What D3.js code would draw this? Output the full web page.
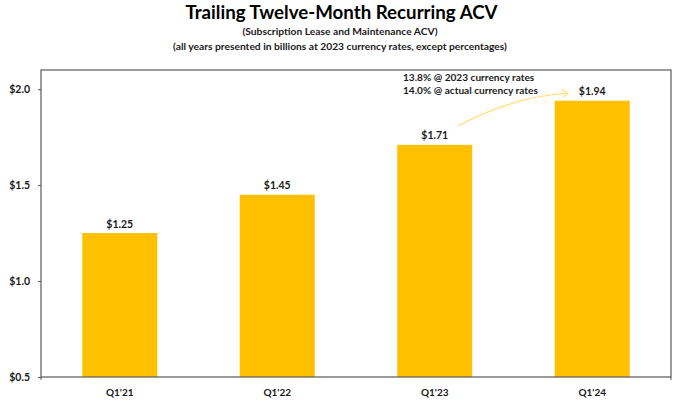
<!DOCTYPE html>
<html>
<head>
<meta charset="utf-8">
<script src="https://cdn.jsdelivr.net/npm/d3@7"></script>
<style>
  html, body { margin: 0; padding: 0; background: #fff; }
  text { font-family: Lato, "Open Sans", sans-serif; font-weight: 700; fill: #1a1a1a; }
</style>
</head>
<body>
<div id="chart-container"></div>
<script>
const quarters = ["Q1'21", "Q1'22", "Q1'23", "Q1'24"]
const acv = [1.25, 1.45, 1.71, 1.94]
const yTicks = [0.5, 1.0, 1.5, 2.0]
const titleLines = ['Trailing Twelve-Month Recurring ACV']
const subtitleLines = ['(Subscription Lease and Maintenance ACV)', '(all years presented in billions at 2023 currency rates, except percentages)']
const noteLines = ['13.8% @ 2023 currency rates', '14.0% @ actual currency rates']

const width = 684
const height = 401
const plotLeft = 41
const plotRight = 671
const plotTop = 70
const plotBottom = 377

const svg = d3.select('#chart-container')
  .append('svg')
  .attr('width', width)
  .attr('height', height)
  .style('display', 'block')

const xScale = d3.scaleBand()
  .domain(quarters)
  .range([plotLeft, plotRight])
  .paddingInner(0.524)
  .paddingOuter(0.262)

const yScale = d3.scaleLinear()
  .domain([0.5, 2.1])
  .range([plotBottom, plotTop])

// bars
svg.selectAll('rect.bar')
  .data(quarters)
  .enter()
  .append('rect')
  .attr('class', 'bar')
  .attr('x', d => xScale(d))
  .attr('y', (d, i) => yScale(acv[i]))
  .attr('width', xScale.bandwidth())
  .attr('height', (d, i) => plotBottom - yScale(acv[i]))
  .attr('fill', '#FFC000')

svg.selectAll('text.value')
  .data(quarters)
  .enter()
  .append('text')
  .attr('class', 'value')
  .attr('x', d => xScale(d) + xScale.bandwidth() / 2)
  .attr('y', (d, i) => yScale(acv[i]) - 5.5)
  .attr('text-anchor', 'middle')
  .attr('font-size', 10.5)
  .text((d, i) => '$' + acv[i].toFixed(2))

// frame
svg.append('rect')
  .attr('x', plotLeft)
  .attr('y', plotTop)
  .attr('width', plotRight - plotLeft)
  .attr('height', plotBottom - plotTop)
  .attr('fill', 'none')
  .attr('stroke', '#595959')
  .attr('stroke-width', 1.2)

// axes
const yAxis = svg.append('g')
  .attr('transform', `translate(${plotLeft},0)`)
  .call(d3.axisLeft(yScale).tickValues(yTicks).tickFormat(d => '$' + d.toFixed(1)).tickSize(3).tickPadding(8))
yAxis.select('.domain').remove()
yAxis.selectAll('line').attr('stroke', '#595959')
yAxis.selectAll('text').attr('font-size', 10.5).attr('font-family', 'Lato')

const xAxis = svg.append('g')
  .attr('transform', `translate(0,${plotBottom})`)
  .call(d3.axisBottom(xScale).tickSize(0).tickPadding(12))
xAxis.select('.domain').remove()
xAxis.selectAll('text').attr('font-size', 10).attr('font-family', 'Lato')

// left and right end ticks of the x axis
svg.selectAll('line.end')
  .data([plotLeft, plotRight])
  .enter()
  .append('line')
  .attr('class', 'end')
  .attr('x1', d => d)
  .attr('x2', d => d)
  .attr('y1', plotBottom)
  .attr('y2', plotBottom + 3)
  .attr('stroke', '#595959')

// titles
svg.selectAll('text.title')
  .data(titleLines)
  .enter()
  .append('text')
  .attr('class', 'title')
  .attr('x', 341.5)
  .attr('y', 18.5)
  .attr('text-anchor', 'middle')
  .attr('font-size', 18.7)
  .style('fill', '#000')
  .text(d => d)

svg.selectAll('text.subtitle')
  .data(subtitleLines)
  .enter()
  .append('text')
  .attr('class', 'subtitle')
  .attr('x', 340)
  .attr('y', (d, i) => 35 + i * 14.5)
  .attr('text-anchor', 'middle')
  .attr('font-size', 10.25)
  .text(d => d)

// growth note
svg.selectAll('text.note')
  .data(noteLines)
  .enter()
  .append('text')
  .attr('class', 'note')
  .attr('x', 403)
  .attr('y', (d, i) => 81 + i * 13.3)
  .attr('font-size', 10.1)
  .text(d => d)

// arrow from the Q1'23 bar to the Q1'24 bar
const arrowStart = [xScale(quarters[2]) + xScale.bandwidth() - 14, yScale(acv[2]) - 19]
const arrowEnd = [xScale(quarters[3]) + 13, yScale(acv[3]) - 7.5]
svg.append('path')
  .attr('d', `M${arrowStart[0]},${arrowStart[1]}Q${(arrowStart[0] + arrowEnd[0]) / 2},${arrowEnd[1] + 3.5} ${arrowEnd[0]},${arrowEnd[1]}`)
  .attr('fill', 'none')
  .attr('stroke', '#FFE08A')
  .attr('stroke-width', 1.3)
svg.append('path')
  .attr('d', `M${arrowEnd[0] - 6},${arrowEnd[1] - 4}L${arrowEnd[0]},${arrowEnd[1]}L${arrowEnd[0] - 5},${arrowEnd[1] + 4}`)
  .attr('fill', 'none')
  .attr('stroke', '#FFE08A')
  .attr('stroke-width', 1.3)
</script>
</body>
</html>
